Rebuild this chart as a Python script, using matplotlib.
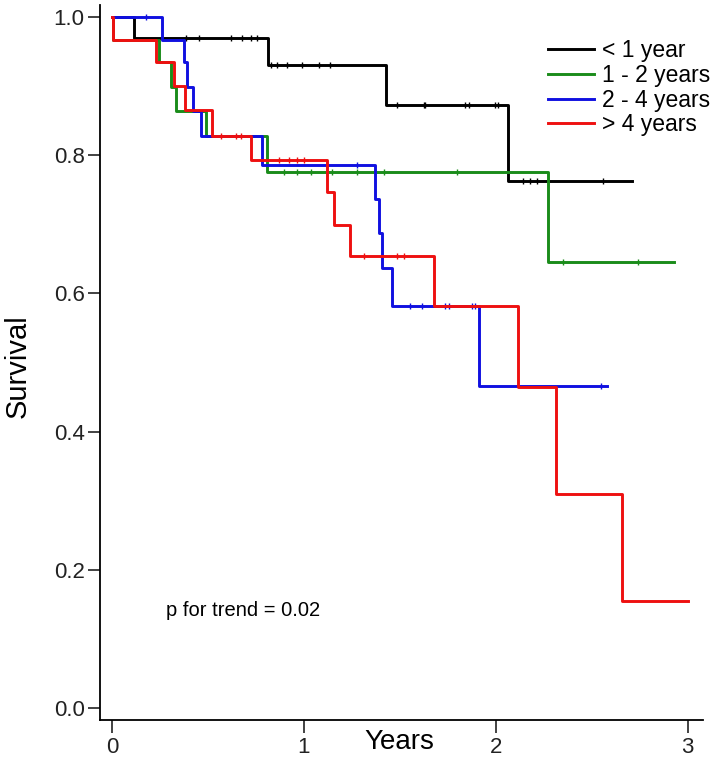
import numpy as np
import matplotlib
matplotlib.use("Agg")
import matplotlib.pyplot as plt

plt.rcParams['font.family'] = ['Liberation Sans', 'DejaVu Sans']

# Kaplan-Meier step curves (time in years, survival)
black_t = [0, 0.116, 0.813, 1.43, 2.066, 2.71]
black_s = [1.0, 0.970, 0.930, 0.873, 0.763, 0.763]
green_t = [0, 0.005, 0.246, 0.307, 0.333, 0.49, 0.81, 2.274, 2.93]
green_s = [1.0, 0.967, 0.935, 0.899, 0.863, 0.827, 0.775, 0.645, 0.645]
blue_t = [0, 0.263, 0.376, 0.393, 0.42, 0.463, 0.783, 1.373, 1.39, 1.407, 1.46, 1.914, 2.58]
blue_s = [1.0, 0.967, 0.935, 0.899, 0.863, 0.828, 0.786, 0.737, 0.688, 0.636, 0.582, 0.466, 0.466]
red_t = [0, 0.005, 0.229, 0.324, 0.381, 0.523, 0.723, 1.122, 1.156, 1.243, 1.676, 2.118, 2.312, 2.656, 3.0]
red_s = [1.0, 0.967, 0.935, 0.900, 0.865, 0.828, 0.793, 0.746, 0.699, 0.654, 0.581, 0.465, 0.310, 0.155, 0.155]

# censored observations
black_cens = [0.385, 0.454, 0.619, 0.679, 0.723, 0.757, 0.827, 0.862, 0.913, 0.991, 1.077, 1.138,
              1.486, 1.624, 1.633, 1.84, 1.86, 1.997, 2.014, 2.144, 2.179, 2.213, 2.56]
green_cens = [0.896, 0.965, 1.035, 1.148, 1.277, 1.416, 1.797, 2.352, 2.742]
blue_cens = [0.177, 1.277, 1.555, 1.615, 1.737, 1.754, 1.876, 1.893, 2.55]
red_cens = [0.567, 0.645, 0.671, 0.87, 0.922, 0.966, 1.0, 1.312, 1.486, 1.52]

labels = ['< 1 year', '1 - 2 years', '2 - 4 years', '> 4 years']
colors = ['#000000', '#1a8c1a', '#1010e0', '#ee1010']
curves = [(black_t, black_s, black_cens), (green_t, green_s, green_cens),
          (blue_t, blue_s, blue_cens), (red_t, red_s, red_cens)]

fig = plt.figure(figsize=(7.17, 7.67), dpi=100)
ax = fig.add_axes([100 / 717, 1 - 720 / 767, 603 / 717, 715 / 767])

for (t, s, cens), col, lab in zip(curves, colors, labels):
    ax.step(t, s, where='post', color=col, lw=2.1, label=lab)
    t_arr = np.array(t)
    idx = np.searchsorted(t_arr, cens, side='right') - 1
    ax.plot(cens, np.array(s)[idx], ls='none', marker='|', ms=4, mew=1, color=col)

ax.set_xlim(-0.062, 3.08)
ax.set_ylim(-0.017, 1.017)
ax.set_xticks([0, 1, 2, 3])
ax.set_yticks([0.0, 0.2, 0.4, 0.6, 0.8, 1.0])
ax.set_yticklabels(['0.0', '0.2', '0.4', '0.6', '0.8', '1.0'])
ax.tick_params(axis='both', labelsize=16, length=9, width=1.2, color='#222222',
               labelcolor='#222222')
ax.tick_params(axis='x', pad=3)
ax.tick_params(axis='y', pad=2)
for side in ['top', 'right']:
    ax.spines[side].set_visible(False)
for side in ['left', 'bottom']:
    ax.spines[side].set_linewidth(1.3)

ax.set_xlabel('Years', fontsize=20)
ax.xaxis.set_label_coords(0.497, -0.012)
fig.text(18 / 717, 1 - 366 / 767, 'Survival', rotation=90, ha='center', va='center', fontsize=21)

ax.text(0.28, 0.142, 'p for trend = 0.02', fontsize=14.5, va='center', ha='left')

ax.legend(loc='upper left', bbox_to_anchor=(0.743, 0.952), frameon=False, fontsize=16.5,
          handlelength=2.0, handletextpad=0.35, labelspacing=0.07, borderpad=0, borderaxespad=0)

fig.savefig('out.png', dpi=100)
